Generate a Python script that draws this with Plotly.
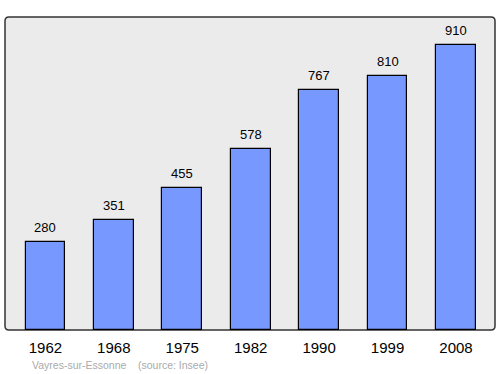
import plotly.graph_objects as go

years = ["1962", "1968", "1975", "1982", "1990", "1999", "2008"]
population = [280, 351, 455, 578, 767, 810, 910]
source_text = "Vayres-sur-Essonne    (source: Insee)"

W, H = 500, 374
L, R, T, B = 5, 495, 17, 330
xpos = list(range(len(years)))
FONT = "Liberation Sans, Arial, sans-serif"

fig = go.Figure()
fig.add_trace(go.Bar(
    x=xpos, y=population, width=0.58,
    marker=dict(color="#7799ff", line=dict(color="#000000", width=1.2)),
))

for xi, v in zip(xpos, population):
    fig.add_annotation(x=xi, y=v, text=str(v), showarrow=False,
                       xanchor="center", yanchor="bottom", yshift=5,
                       font=dict(family=FONT, size=13, color="#000"))

# rounded frame in paper coords (0..1 == plot area)
rx, ry = 4 / (R - L), 4 / (B - T)
path = (f"M {rx},1 L {1-rx},1 Q 1,1 1,{1-ry} L 1,{ry} Q 1,0 {1-rx},0 "
        f"L {rx},0 Q 0,0 0,{ry} L 0,{1-ry} Q 0,1 {rx},1 Z")
fig.add_shape(type="path", path=path, xref="paper", yref="paper",
              fillcolor="#ebebeb", line=dict(color="#333333", width=1.5), layer="below")

fig.add_annotation(text=source_text, xref="paper", yref="paper",
                   x=(30 - L) / (R - L), y=(B - 365) / (B - T), xanchor="left", yanchor="middle",
                   showarrow=False,
                   font=dict(family=FONT, size=10.5, color="#aaaaaa"))

fig.update_layout(
    width=W, height=H,
    margin=dict(l=L, r=W - R, t=T, b=H - B),
    paper_bgcolor="white", plot_bgcolor="rgba(0,0,0,0)",
    showlegend=False,
    bargap=0,
    xaxis=dict(range=[-0.59, 6.57], tickvals=xpos, ticktext=years, showgrid=False,
               zeroline=False, showline=False, ticks="outside", ticklen=4,
               tickcolor="rgba(0,0,0,0)",
               tickfont=dict(family=FONT, size=15, color="#000")),
    yaxis=dict(range=[0, 1000], showgrid=False, zeroline=False, showticklabels=False,
               showline=False),
)

fig.write_html("out.html")
